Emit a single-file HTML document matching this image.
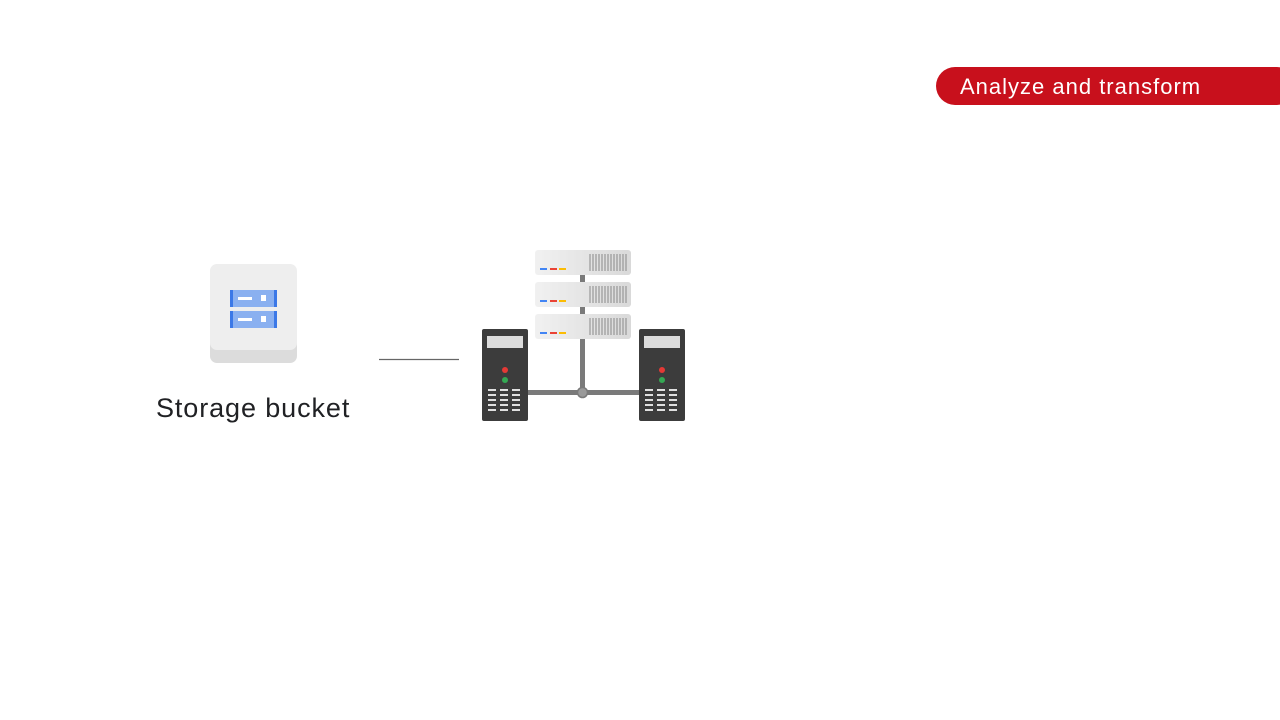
<!DOCTYPE html>
<html><head><style>
body{margin:0;background:#fff;width:1280px;height:720px;overflow:hidden;position:relative;font-family:"Liberation Sans",Arial,sans-serif}
.pill{position:absolute;left:936px;top:67px;width:360px;height:38px;background:#c8101c;border-radius:19px;color:#fff;font-size:22px;letter-spacing:1px;line-height:39px;padding-left:24px;box-sizing:border-box;white-space:nowrap}
.lbl{position:absolute;left:156px;top:393px;font-size:27px;letter-spacing:0.9px;color:#202124;white-space:nowrap}
</style></head><body>
<div class="pill">Analyze and transform</div>
<div class="lbl">Storage bucket</div>
<svg width="1280" height="720" style="position:absolute;left:0;top:0">
<defs>
<linearGradient id="g" x1="0" x2="1"><stop offset="0" stop-color="#f1f1f1"/><stop offset="1" stop-color="#d9d9d9"/></linearGradient>
</defs>
<rect x="210" y="268" width="87" height="95" rx="7" fill="#dcdcdc"/>
<rect x="210" y="264" width="87" height="86" rx="7" fill="#eeeeee"/>
<rect x="230" y="290" width="47" height="17" fill="#8ab0f0"/>
<rect x="230" y="290" width="3" height="17" fill="#3b78e7"/><rect x="274" y="290" width="3" height="17" fill="#3b78e7"/>
<rect x="238" y="297" width="14" height="3" fill="#fff"/><rect x="261" y="295" width="5" height="6" fill="#fff"/>
<rect x="230" y="311" width="47" height="17" fill="#8ab0f0"/>
<rect x="230" y="311" width="3" height="17" fill="#3b78e7"/><rect x="274" y="311" width="3" height="17" fill="#3b78e7"/>
<rect x="238" y="318" width="14" height="3" fill="#fff"/><rect x="261" y="316" width="5" height="6" fill="#fff"/>
<line x1="379" y1="359.5" x2="459" y2="359.5" stroke="#666" stroke-width="1.2"/>
<rect x="580" y="270" width="5" height="124" fill="#7a7a7a"/>
<rect x="526" y="390" width="115" height="5" fill="#7a7a7a"/>
<circle cx="582.5" cy="392.5" r="5" fill="#9a9a9a" stroke="#7a7a7a" stroke-width="1.5"/>
<g id="u">
<rect x="535" y="250" width="96" height="25" rx="3" fill="url(#g)"/>
<rect x="540" y="268" width="7" height="2" fill="#4285f4"/><rect x="550" y="268" width="7" height="2" fill="#ea4335"/><rect x="559" y="268" width="7" height="2" fill="#fbbc04"/>
<path d="M590 254v17M593 254v17M596 254v17M599 254v17M602 254v17M605 254v17M608 254v17M611 254v17M614 254v17M617 254v17M620 254v17M623 254v17M626 254v17" stroke="#888" stroke-width="1"/>
</g>
<use href="#u" y="32"/><use href="#u" y="64"/>
<g id="t">
<rect x="482" y="329" width="46" height="92" rx="2" fill="#3c3c3c"/>
<rect x="487" y="336" width="36" height="12" fill="#dcdcdc"/>
<circle cx="505" cy="370" r="3" fill="#e53935"/><circle cx="505" cy="380" r="3" fill="#34a853"/>
<path d="M488 390h8M500 390h8M512 390h8M488 395h8M500 395h8M512 395h8M488 400h8M500 400h8M512 400h8M488 405h8M500 405h8M512 405h8M488 410h8M500 410h8M512 410h8" stroke="#e0e0e0" stroke-width="2"/>
</g>
<use href="#t" x="157"/>
</svg>
</body></html>
